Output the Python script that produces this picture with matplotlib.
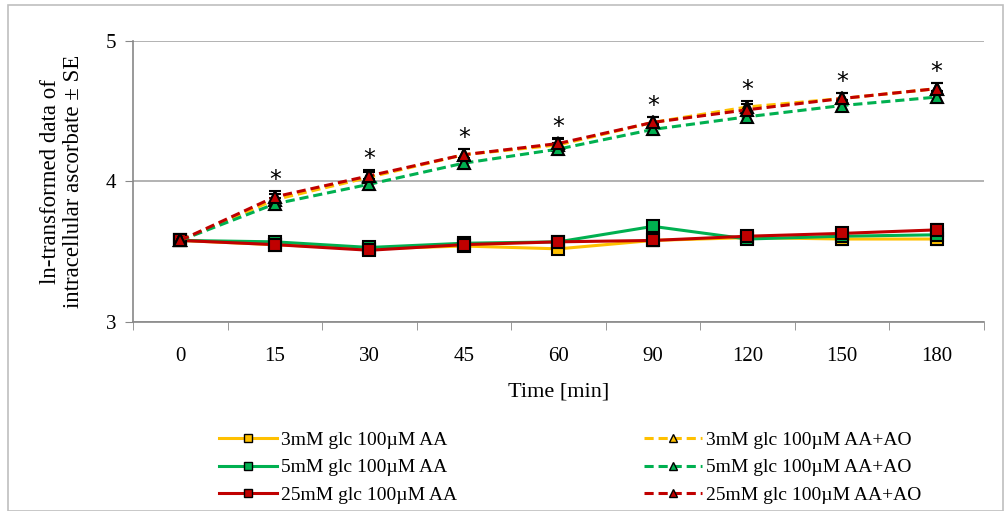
import matplotlib.pyplot as plt
import numpy as np
from matplotlib.patches import Rectangle

# 数据
times = ['0', '15', '30', '45', '60', '90', '120', '150', '180']

aa_3 = [3.58, 3.55, 3.52, 3.54, 3.52, 3.58, 3.60, 3.59, 3.59]
aa_5 = [3.58, 3.57, 3.53, 3.56, 3.57, 3.68, 3.59, 3.61, 3.62]
aa_25 = [3.58, 3.55, 3.51, 3.55, 3.57, 3.58, 3.61, 3.63, 3.655]
ao_3 = [3.58, 3.87, 4.03, 4.19, 4.26, 4.42, 4.53, 4.59, 4.66]
ao_5 = [3.58, 3.84, 3.98, 4.13, 4.23, 4.37, 4.46, 4.54, 4.60]
ao_25 = [3.58, 3.89, 4.04, 4.19, 4.27, 4.42, 4.51, 4.59, 4.66]

se_aa = [0.03, 0.03, 0.03, 0.03, 0.03, 0.04, 0.03, 0.04, 0.04]
se_ao = [0.03, 0.04, 0.04, 0.04, 0.04, 0.04, 0.04, 0.04, 0.04]

star_times = ['15', '30', '45', '60', '90', '120', '150', '180']

labels_aa = ['3mM glc 100µM AA', '5mM glc 100µM AA', '25mM glc 100µM AA']
labels_ao = ['3mM glc 100µM AA+AO', '5mM glc 100µM AA+AO', '25mM glc 100µM AA+AO']
colors = ['#FFC000', '#00B050', '#C00000']

plt.rcParams['font.family'] = ['Liberation Serif', 'DejaVu Serif']

fig = plt.figure(figsize=(10.08, 5.11), dpi=100)
ax = fig.add_axes([0.132, 0.37, 0.844, 0.55])
fig.patches.append(Rectangle((0.008, 0.0), 0.987, 0.99, transform=fig.transFigure,
                             fill=False, edgecolor='#bfbfbf', linewidth=1.2))

x = np.arange(len(times)) + 0.5

handles_aa = []
for y, c, lab in zip([aa_3, aa_5, aa_25], colors, labels_aa):
    ax.errorbar(x, y, yerr=se_aa, fmt='none', ecolor='black', elinewidth=1.5,
                capsize=4, capthick=1.5, zorder=3)
    h, = ax.plot(x, y, '-', color=c, lw=2.2, marker='s', markersize=8,
                 markerfacecolor=c, markeredgecolor='black', markeredgewidth=1.5,
                 label=lab, zorder=4)
    handles_aa.append(h)

handles_ao = []
for y, c, lab in zip([ao_3, ao_5, ao_25], colors, labels_ao):
    ax.errorbar(x, y, yerr=se_ao, fmt='none', ecolor='black', elinewidth=1.5,
                capsize=4, capthick=1.5, zorder=3)
    h, = ax.plot(x, y, '--', color=c, lw=2.2, dashes=(3, 1.6), marker='^', markersize=8,
                 markerfacecolor=c, markeredgecolor='black', markeredgewidth=1.5,
                 label=lab, zorder=4)
    handles_ao.append(h)

# 星号
for t in star_times:
    i = times.index(t)
    top = max(ao_3[i], ao_5[i], ao_25[i])
    ax.text(x[i], top + 0.12, '*', ha='center', va='center', fontsize=17,
            family='DejaVu Sans')

ax.set_xlim(0, len(times))
ax.set_ylim(3, 5)
ax.set_yticks([3, 4, 5])
ax.set_xticks(x)
ax.set_xticklabels(times)
ax.set_xticks(np.arange(len(times) + 1), minor=True)
ax.tick_params(axis='x', which='major', length=0, pad=18, labelsize=15)
ax.tick_params(axis='x', which='minor', length=6, color='#888888')
ax.tick_params(axis='y', length=6, color='#888888', labelsize=15, pad=6)
ax.grid(axis='y', color='#a6a6a6', lw=1.2)
ax.set_axisbelow(True)
for s in ['top', 'right']:
    ax.spines[s].set_visible(False)
for s in ['left', 'bottom']:
    ax.spines[s].set_color('#888888')
    ax.spines[s].set_linewidth(1.2)

ax.set_xlabel('Time [min]', fontsize=16, labelpad=12)
ax.set_ylabel('ln-transformed data of\nintracellular ascorbate ± SE', fontsize=16.5,
              labelpad=16, linespacing=1.1)

handles = [handles_aa[0], handles_ao[0], handles_aa[1], handles_ao[1], handles_aa[2], handles_ao[2]]
leg_hs = []
for h in handles:
    lh, = ax.plot([], [], ls=h.get_linestyle(), color=h.get_color(), lw=2.2,
                  marker=h.get_marker(), markersize=6, markerfacecolor=h.get_color(),
                  markeredgecolor='black', markeredgewidth=1, label=h.get_label())
    if h.get_linestyle() == '--':
        lh.set_dashes((3, 1.6))
    leg_hs.append(lh)
order = [0, 2, 4, 1, 3, 5]
fig.legend([leg_hs[i] for i in order], [leg_hs[i].get_label() for i in order],
           loc='lower left', bbox_to_anchor=(0.2, -0.02), ncol=2, frameon=False,
           fontsize=14, handlelength=3.0, columnspacing=9.6, labelspacing=0.5,
           handletextpad=0.2)

plt.savefig('out.png', dpi=100)
